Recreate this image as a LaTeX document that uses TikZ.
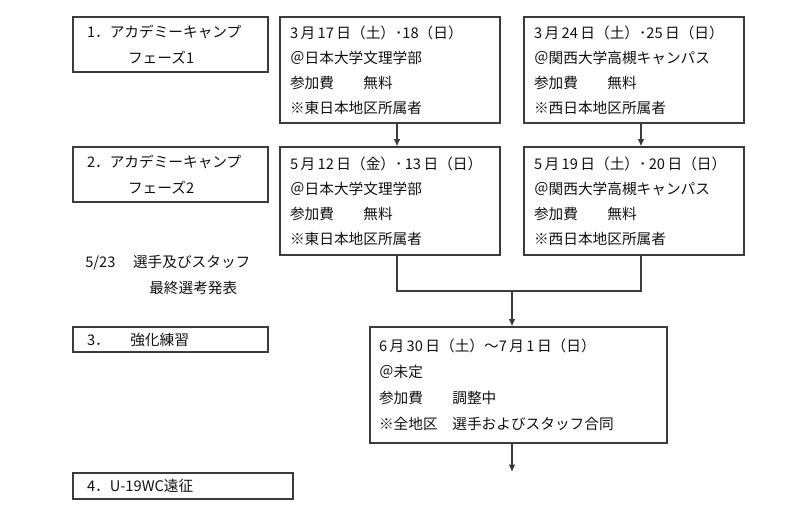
\documentclass[tikz,border=0pt]{standalone}
\usepackage{fontspec}
\setmainfont{Noto Sans CJK JP}
\usetikzlibrary{arrows.meta}
\definecolor{edgegray}{HTML}{3C3C3C}
\definecolor{inkblack}{HTML}{111111}

\begin{document}
\begin{tikzpicture}[x=0.75pt, y=-0.75pt, node distance=183pt,
    tagbox/.style={rectangle, draw=edgegray, line width=0.9pt, text=inkblack, text width=125.25pt, inner xsep=10.5pt, inner ysep=0pt, align=left, minimum height=41.25pt, font=\fontsize{11pt}{19.5pt}\selectfont},
    evbox/.style={rectangle, draw=edgegray, line width=0.9pt, text=inkblack, text width=150pt, inner xsep=7.5pt, inner ysep=0pt, align=left, minimum height=79.5pt, font=\fontsize{11pt}{18.75pt}\selectfont},
    line/.style={draw=edgegray, line width=0.9pt, -{Latex[length=5.5pt,width=5pt]}},
    link/.style={draw=edgegray, line width=0.9pt}]

    \useasboundingbox (0,0) rectangle (800,521);

    % phases on the left
    \node [tagbox] (phase1) at (170.5,44.5) {1．アカデミーキャンプ\\\hspace*{2.8em}フェーズ1};
    \node [tagbox, below of=phase1, node distance=97.5pt] (phase2) {2．アカデミーキャンプ\\\hspace*{2.8em}フェーズ2};
    \node [anchor=west, inner sep=0pt, text=inkblack, align=left, font=\fontsize{11pt}{19.5pt}\selectfont] (notice) at (85,275) {5/23\hspace{1.2em}選手及びスタッフ\\\hspace*{48pt}最終選考発表};
    \node [tagbox, below of=phase2, node distance=123.75pt, minimum height=18.75pt] (phase3) {3．\hspace{1.4em}強化練習};
    \node [tagbox, text width=144pt, minimum height=19.5pt] (phase4) at (183,486) {4．U-19WC遠征};

    % camps
    \node [evbox] (east1) at (390,70) {3\,月\,17\,日（土）･18（日）\\＠日本大学文理学部\\参加費　　無料\\※東日本地区所属者};
    \node [evbox, right of=east1] (west1) {3\,月\,24\,日（土）･25\,日（日）\\＠関西大学高槻キャンパス\\参加費　　無料\\※西日本地区所属者};
    \node [evbox, below of=east1, node distance=98.25pt, minimum height=81pt] (east2) {5\,月\,12\,日（金）･\,13\,日（日）\\＠日本大学文理学部\\参加費　　無料\\※東日本地区所属者};
    \node [evbox, right of=east2, minimum height=81pt] (west2) {5\,月\,19\,日（土）･\,20\,日（日）\\＠関西大学高槻キャンパス\\参加費　　無料\\※西日本地区所属者};
    \node [evbox, text width=209.25pt, inner xsep=6.75pt, minimum height=87pt, font=\fontsize{11pt}{19.5pt}\selectfont] (training) at (518.5,385) {6\,月\,30\,日（土）～7\,月\,1\,日（日）\\＠未定\\参加費　　調整中\\※全地区　選手およびスタッフ合同};

    \coordinate (merge) at (512,291);
    \coordinate (abroad) at (512,472);

    \path [line] ([xshift=5.25pt]east1.south) -- ([xshift=5.25pt]east2.north);
    \path [line] ([xshift=5.25pt]west1.south) -- ([xshift=5.25pt]west2.north);
    \path [link] ([xshift=5.25pt]east2.south) |- (merge) -| ([xshift=5.25pt]west2.south);
    \path [line] (merge) -- (merge |- training.north);
    \path [line] (training.south -| merge) -- (abroad);
\end{tikzpicture}
\end{document}
